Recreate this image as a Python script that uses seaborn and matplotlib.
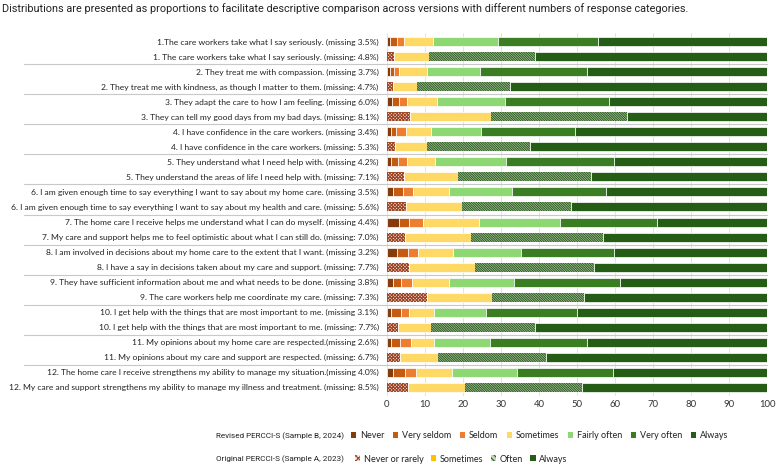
"""PERCCI-S response distributions: revised (2024) vs original (2023) item pairs."""

import matplotlib as mpl
import matplotlib.pyplot as plt
import numpy as np
import pandas as pd
import seaborn as sns
from matplotlib.patches import Patch

sns.set_theme(style="whitegrid")
plt.rcParams["font.family"] = ["Lato", "DejaVu Sans"]
mpl.rcParams.update({"hatch.linewidth": 0.8})

TITLE = ("Distributions are presented as proportions to facilitate descriptive comparison "
         "across versions with different numbers of response categories.")

revised_items = [
    "1.The care workers take what I say seriously. (missing 3.5%)",
    "2. They treat me with compassion. (missing 3.7%)",
    "3. They adapt the care to how I am feeling. (missing 6.0%)",
    "4. I have confidence in the care workers. (missing 3.4%)",
    "5. They understand what I need help with. (missing 4.2%)",
    "6. I am given enough time to say everything I want to say about my home care. (missing 3.5%)",
    "7. The home care I receive helps me understand what I can do myself. (missing 4.4%)",
    "8. I am involved in decisions about my home care to the extent that I want. (missing 3.2%)",
    "9. They have sufficient information about me and what needs to be done. (missing 3.8%)",
    "10. I get help with the things that are most important to me. (missing 3.1%)",
    "11. My opinions about my home care are respected.(missing 2.6%)",
    "12. The home care I receive strengthens my ability to manage my situation.(missing 4.0%)",
]
original_items = [
    "1. The care workers take what I say seriously. (missing: 4.8%)",
    "2. They treat me with kindness, as though I matter to them. (missing: 4.7%)",
    "3. They can tell my good days from my bad days. (missing: 8.1%)",
    "4. I have confidence in the care workers. (missing: 5.3%)",
    "5. They understand the areas of life I need help with. (missing: 7.1%)",
    "6. I am given enough time to say everything I want to say about my health and care. (missing: 5.6%)",
    "7. My care and support helps me to feel optimistic about what I can still do. (missing: 7.0%)",
    "8. I have a say in decisions taken about my care and support. (missing: 7.7%)",
    "9. The care workers help me coordinate my care. (missing: 7.3%)",
    "10. I get help with the things that are most important to me. (missing: 7.7%)",
    "11. My opinions about my care and support are respected. (missing: 6.7%)",
    "12. My care and support strengthens my ability to manage my illness and treatment. (missing: 8.5%)",
]

# revised version, 7 categories (% of respondents)
rev_never = [0.9, 0.8, 1.3, 1.0, 1.1, 1.5, 3.2, 2.5, 1.5, 1.0, 1.0, 1.7]
rev_very_seldom = [1.6, 1.0, 1.8, 1.3, 1.7, 2.8, 2.7, 2.9, 2.2, 2.7, 2.5, 3.0]
rev_seldom = [2.1, 1.4, 2.2, 2.6, 2.5, 2.5, 3.5, 2.8, 3.0, 2.1, 2.7, 2.9]
rev_sometimes = [7.4, 7.4, 7.9, 6.6, 7.3, 9.5, 14.8, 9.2, 9.5, 6.5, 6.2, 9.4]
rev_fairly_often = [17.1, 14.0, 17.9, 13.2, 18.7, 16.7, 21.2, 17.9, 17.2, 13.8, 14.7, 17.3]
rev_very_often = [26.4, 28.0, 27.2, 24.8, 28.4, 24.7, 25.7, 24.5, 27.9, 24.0, 25.4, 25.2]
rev_always = [44.5, 47.4, 41.7, 50.5, 40.3, 42.3, 28.9, 40.2, 38.7, 49.9, 47.5, 40.5]

# original version, 4 categories
orig_never_rarely = [1.8, 1.5, 6.1, 2.0, 4.5, 5.0, 4.8, 5.9, 10.6, 3.0, 3.4, 5.4]
orig_sometimes = [9.3, 6.4, 21.3, 8.4, 14.1, 14.8, 17.2, 17.3, 16.9, 8.7, 10.1, 15.0]
orig_often = [27.9, 24.4, 35.8, 27.1, 35.2, 28.7, 34.9, 31.2, 24.3, 27.2, 28.3, 30.9]
orig_always = [61.0, 67.7, 36.8, 62.5, 46.2, 51.5, 43.1, 45.6, 48.2, 61.1, 58.2, 48.7]

x_ticks = [0, 10, 20, 30, 40, 50, 60, 70, 80, 90, 100]

REV_CATS = ["Never", "Very seldom", "Seldom", "Sometimes", "Fairly often", "Very often", "Always"]
REV_COLORS = ["#843c0c", "#c55a11", "#ed7d31", "#ffd966", "#8ed873", "#3a7d22", "#255d16"]
ORIG_CATS = ["Never or rarely", "Sometimes", "Often", "Always"]
NR_HATCH = "xxxxxxxxxx"
OFTEN_HATCH = "\\" * 14
# (face, hatch colour, hatch)
ORIG_STYLE = [
    ("#f6e4da", "#9c4424", NR_HATCH),
    ("#ffd966", None, None),
    ("#c5d7bb", "#2c5f1f", OFTEN_HATCH),
    ("#255d16", None, None),
]

rev = pd.DataFrame(
    np.column_stack([rev_never, rev_very_seldom, rev_seldom, rev_sometimes,
                     rev_fairly_often, rev_very_often, rev_always]),
    columns=REV_CATS,
)
orig = pd.DataFrame(
    np.column_stack([orig_never_rarely, orig_sometimes, orig_often, orig_always]),
    columns=ORIG_CATS,
)

fig = plt.figure(figsize=(7.8, 4.66), dpi=100)
ax = fig.add_axes([387 / 780, 1 - 396.3 / 466, 380 / 780, (396.3 - 32.7) / 466])

n = len(revised_items)
y_rev = np.arange(n) * 2
y_orig = y_rev + 1
H = 0.6

left = np.zeros(n)
for cat, col in zip(REV_CATS, REV_COLORS):
    ax.barh(y_rev, rev[cat], left=left, height=H, color=col, edgecolor="white", linewidth=0.5, zorder=3)
    left += rev[cat].to_numpy()

left = np.zeros(n)
for cat, (face, hcol, hatch) in zip(ORIG_CATS, ORIG_STYLE):
    if hatch:
        ax.barh(y_orig, orig[cat], left=left, height=H, color=face, edgecolor=hcol,
                hatch=hatch, linewidth=0, zorder=3)
    else:
        ax.barh(y_orig, orig[cat], left=left, height=H, color=face, edgecolor="white",
                linewidth=0.5, zorder=3)
    left += orig[cat].to_numpy()

# pair separators running under the labels too
for k in range(1, n):
    ax.axhline(2 * k - 0.5, xmin=(24 - 387) / 380, xmax=1.0, color="#c8c8c8",
               linewidth=0.8, clip_on=False, zorder=1)

labels = [None] * (2 * n)
labels[0::2] = revised_items
labels[1::2] = original_items
ax.set_yticks(np.arange(2 * n))
ax.set_yticklabels(labels, fontsize=6.1, color="#222222")
ax.set_ylim(2 * n - 0.4, -0.6)
ax.set_xlim(0, 100)
ax.set_xticks(x_ticks)
ax.set_xticklabels([str(v) for v in x_ticks], fontsize=6.8, color="#333333")
ax.grid(axis="y", visible=False)
ax.grid(axis="x", color="#dedede", linewidth=0.6)
ax.tick_params(axis="both", length=0, pad=3)
ax.tick_params(axis="y", pad=6)
sns.despine(ax=ax, left=True, bottom=True)

fig.text(0.002, 1 - 9 / 466, TITLE, fontsize=7.8, color="#222222", va="center", ha="left",
         family=["Roboto", "DejaVu Sans"])

# two-row legend
rev_handles = [Patch(facecolor=c, edgecolor="none") for c in REV_COLORS]
orig_handles = [
    Patch(facecolor="#f6e4da", edgecolor="#9c4424", hatch="xxxxxx", linewidth=0),
    Patch(facecolor="#ffc000", edgecolor="none"),
    Patch(facecolor="#c5d7bb", edgecolor="#2c5f1f", hatch="\\\\\\\\\\\\", linewidth=0),
    Patch(facecolor="#255d16", edgecolor="none"),
]
leg_kw = dict(frameon=False, fontsize=6.5, handlelength=0.6, handleheight=0.6,
              handletextpad=0.4, borderaxespad=0, borderpad=0, labelcolor="#222222")
fig.legend(rev_handles, REV_CATS, loc="center left", bbox_to_anchor=(351 / 780, 1 - 436 / 466),
           ncol=7, columnspacing=0.95, **leg_kw)
fig.legend(orig_handles, ORIG_CATS, loc="center left", bbox_to_anchor=(355 / 780, 1 - 459 / 466),
           ncol=4, columnspacing=0.8, **leg_kw)
fig.text(216 / 780, 1 - 436 / 466, "Revised PERCCI-S (Sample B, 2024)", fontsize=5.9,
         color="#222222", va="center", ha="left", family=["Roboto", "DejaVu Sans"])
fig.text(216 / 780, 1 - 459 / 466, "Original PERCCI-S (Sample A, 2023)", fontsize=5.9,
         color="#222222", va="center", ha="left", family=["Roboto", "DejaVu Sans"])

fig.savefig("out.png", dpi=100)
